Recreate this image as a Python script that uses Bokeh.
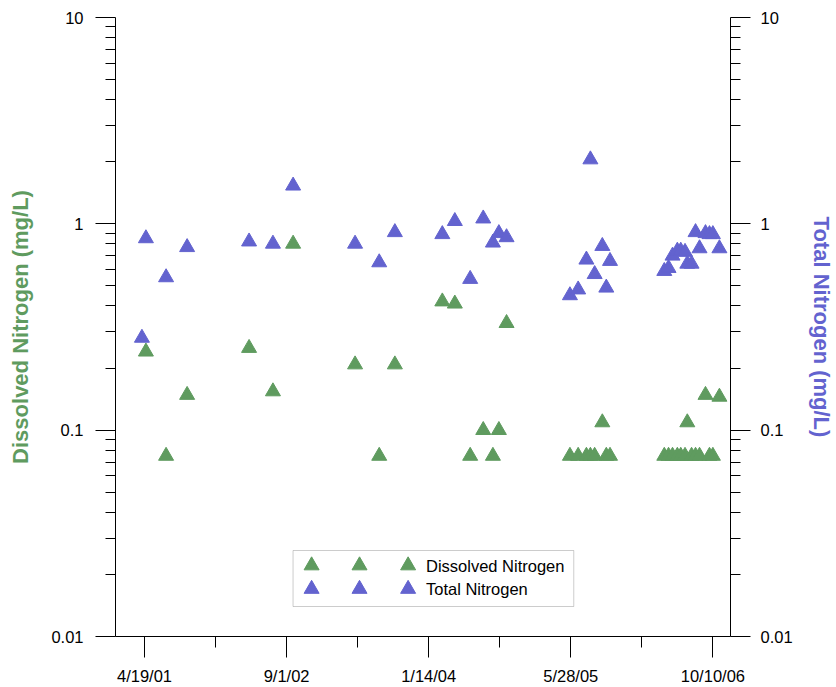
import pandas as pd
from bokeh.plotting import figure
from bokeh.models import Range1d, LogAxis, FixedTicker, CustomJSTickFormatter, BoxAnnotation, Label
from bokeh.embed import file_html
from bokeh.resources import INLINE

# ---------------- data ----------------
dissolved_dates = [
    "2001-04-24", "2001-07-04", "2001-09-16", "2002-04-22", "2002-07-15", "2002-09-24",
    "2003-04-30", "2003-07-24", "2003-09-17",
    "2004-03-02", "2004-04-15", "2004-06-08", "2004-07-24", "2004-08-27", "2004-09-17", "2004-10-14",
    "2005-05-25", "2005-06-23", "2005-07-22", "2005-08-05", "2005-08-20", "2005-09-16", "2005-09-30", "2005-10-13",
    "2006-04-22", "2006-05-07", "2006-05-21", "2006-06-07", "2006-06-19", "2006-07-04", "2006-07-12",
    "2006-07-27", "2006-08-10", "2006-08-24", "2006-09-14", "2006-09-28", "2006-10-10", "2006-11-02",
]
dissolved_mgL = [
    0.24, 0.075, 0.148, 0.25, 0.154, 0.80,
    0.208, 0.075, 0.208,
    0.42, 0.41, 0.075, 0.10, 0.075, 0.10, 0.33,
    0.075, 0.075, 0.075, 0.075, 0.075, 0.109, 0.075, 0.075,
    0.075, 0.075, 0.075, 0.075, 0.075, 0.075, 0.109,
    0.075, 0.075, 0.075, 0.148, 0.075, 0.075, 0.145,
]
total_dates = [
    "2001-04-10", "2001-04-24", "2001-07-04", "2001-09-16", "2002-04-22", "2002-07-15", "2002-09-24",
    "2003-04-30", "2003-07-24", "2003-09-17",
    "2004-03-02", "2004-04-15", "2004-06-08", "2004-07-24", "2004-08-27", "2004-09-17", "2004-10-14",
    "2005-05-25", "2005-06-23", "2005-07-22", "2005-08-05", "2005-08-20", "2005-09-16", "2005-09-30", "2005-10-13",
    "2006-04-22", "2006-05-07", "2006-05-21", "2006-06-07", "2006-06-19", "2006-07-04", "2006-07-12",
    "2006-07-27", "2006-08-10", "2006-08-24", "2006-09-14", "2006-09-28", "2006-10-10", "2006-11-02",
]
total_mgL = [
    0.28, 0.85, 0.55, 0.77, 0.82, 0.80, 1.53,
    0.80, 0.65, 0.91,
    0.89, 1.03, 0.54, 1.06, 0.81, 0.90, 0.86,
    0.45, 0.48, 0.67, 2.05, 0.57, 0.78, 0.49, 0.66,
    0.59, 0.61, 0.70, 0.74, 0.74, 0.73, 0.64,
    0.64, 0.91, 0.76, 0.90, 0.89, 0.89, 0.76,
]

x_tick_dates = ["2001-04-19", "2002-09-01", "2004-01-14", "2005-05-28", "2006-10-10"]
x_tick_labels = ["4/19/01", "9/1/02", "1/14/04", "5/28/05", "10/10/06"]
x_range_dates = ["2001-01-07", "2006-12-11"]
y_tick_values = [0.01, 0.1, 1, 10]
y_tick_labels = ["0.01", "0.1", "1", "10"]
series_names = ["Dissolved Nitrogen", "Total Nitrogen"]
left_title = "Dissolved Nitrogen (mg/L)"
right_title = "Total Nitrogen (mg/L)"

# ---------------- styles ----------------
GREEN = "#5f9b5f"
BLUE = "#6363cf"
FONT = "Liberation Sans"
TICK_SIZE = "16.5px"
MARK = 15


def ms(d):
    return pd.Timestamp(d).value / 1e6


xs, xe = ms(x_range_dates[0]), ms(x_range_dates[1])
L, R, T, B = 115, 101, 17, 51
W, H = 836, 687
FW, FH = W - L - R, H - T - B

p = figure(width=W, height=H, x_axis_type="datetime", y_axis_type="log",
           x_range=Range1d(xs, xe), y_range=Range1d(y_tick_values[0], y_tick_values[-1]),
           output_backend="svg", toolbar_location=None, title=None,
           min_border_left=L, min_border_right=R, min_border_top=T, min_border_bottom=B)
p.outline_line_color = None
p.grid.visible = False
p.background_fill_color = "white"
p.border_fill_color = "white"

x_major = [ms(d) for d in x_tick_dates]
x_minor = [(a + b) / 2 for a, b in zip(x_major[:-1], x_major[1:])]
x_fmt = CustomJSTickFormatter(args=dict(majors=x_major, names=x_tick_labels), code="""
let best = 0;
for (let k = 0; k < majors.length; k++) {
  if (Math.abs(majors[k] - tick) < Math.abs(majors[best] - tick)) best = k;
}
return names[best];
""")
y_minor = [m * v for v in y_tick_values[:-1] for m in range(2, 10)]
y_fmt = CustomJSTickFormatter(args=dict(majors=y_tick_values, names=y_tick_labels), code="""
let best = 0;
for (let k = 0; k < majors.length; k++) {
  if (Math.abs(Math.log10(majors[k]) - Math.log10(tick)) < Math.abs(Math.log10(majors[best]) - Math.log10(tick))) best = k;
}
return names[best];
""")

xa = p.xaxis[0]
xa.ticker = FixedTicker(ticks=x_major, minor_ticks=x_minor)
xa.formatter = x_fmt
ya = p.yaxis[0]
ya.ticker = FixedTicker(ticks=y_tick_values, minor_ticks=y_minor)
ya.formatter = y_fmt
yr = LogAxis(ticker=FixedTicker(ticks=y_tick_values, minor_ticks=y_minor), formatter=y_fmt)
p.add_layout(yr, "right")

for ax in (xa, ya, yr):
    ax.axis_line_color = "black"
    ax.axis_line_width = 1
    ax.major_tick_line_color = "black"
    ax.minor_tick_line_color = "black"
    ax.major_tick_in = 0
    ax.minor_tick_in = 0
    ax.major_tick_out = 20
    ax.minor_tick_out = 10
    ax.major_label_text_font = FONT
    ax.major_label_text_font_size = TICK_SIZE
    ax.major_label_text_color = "black"
    ax.axis_label_text_font = FONT
    ax.axis_label_text_font_style = "bold"
    ax.axis_label_text_font_size = "22px"

xa.major_tick_out = 21
xa.minor_tick_out = 11
xa.major_label_standoff = 9
ya.major_label_standoff = 12
yr.major_label_standoff = 10

ya.axis_label = left_title
ya.axis_label_text_color = GREEN
ya.axis_label_standoff = 15
yr.axis_label = right_title
yr.axis_label_text_color = BLUE
yr.axis_label_standoff = 13

# ---------------- points ----------------
p.scatter(x=[ms(d) for d in dissolved_dates], y=dissolved_mgL, marker="triangle", size=MARK,
          fill_color=GREEN, line_color=GREEN, line_width=1)
p.scatter(x=[ms(d) for d in total_dates], y=total_mgL, marker="triangle", size=MARK,
          fill_color=BLUE, line_color=BLUE, line_width=1)


# ---------------- legend (drawn inside the frame) ----------------
def px_x(px):
    return xs + (px - L) / FW * (xe - xs)


def px_y(py):
    return 10 ** (1 - (py - T) / FH * 3)


p.add_layout(BoxAnnotation(left=px_x(294), right=px_x(577), top=px_y(550), bottom=px_y(606),
                           fill_color="white", fill_alpha=1, line_color="#555555", line_width=1,
                           level="underlay"))
for py, col, name in [(565, GREEN, series_names[0]), (588.5, BLUE, series_names[1])]:
    p.scatter(x=[px_x(312.7), px_x(361), px_x(410)], y=[px_y(py)] * 3, marker="triangle", size=MARK,
              fill_color=col, line_color=col, line_width=1)
    p.add_layout(Label(x=px_x(428), y=px_y(py), text=name, text_baseline="middle", text_align="left",
                       text_font=FONT, text_font_size=TICK_SIZE, text_color="black"))

open("out.html", "w").write(file_html(p, INLINE))
